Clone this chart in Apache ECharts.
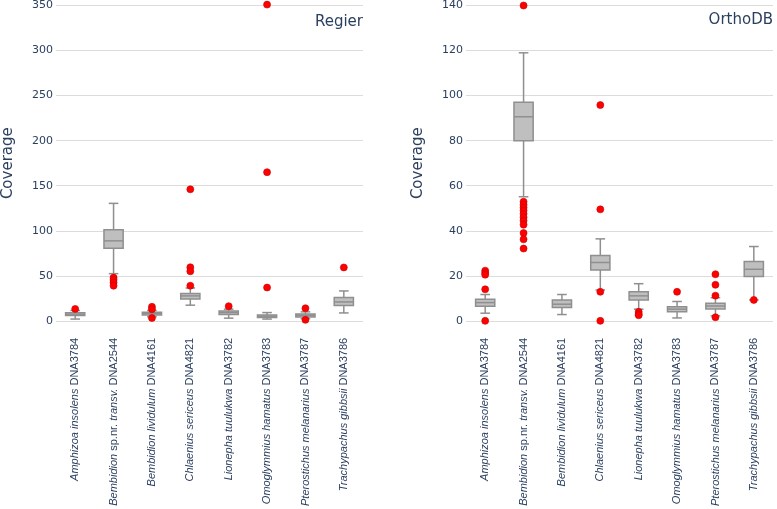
<!DOCTYPE html>
<html>
<head>
<meta charset="utf-8">
<script src="https://cdn.jsdelivr.net/npm/echarts@6/dist/echarts.min.js"></script>
<style>
  html, body { margin: 0; padding: 0; background: #fff; }
  #chart { width: 777px; height: 509px; }
</style>
</head>
<body>
<div id="chart"></div>
<script>
const categories = [
  'Amphizoa insolens DNA3784',
  'Bembidion sp.nr. transv. DNA2544',
  'Bembidion lividulum DNA4161',
  'Chlaenius sericeus DNA4821',
  'Lionepha tuulukwa DNA3782',
  'Omoglymmius hamatus DNA3783',
  'Pterostichus melanarius DNA3787',
  'Trachypachus gibbsii DNA3786'
];

// [min, q1, median, q3, max]
const regierBoxes = [
  [2, 6, 7.4, 9, 11.5],
  [52.4, 80.7, 88.8, 101, 130.4],
  [4.5, 6.5, 8, 9.5, 11.5],
  [17.4, 24.3, 27.7, 30.3, 36.5],
  [3, 7, 9.2, 11, 13],
  [2, 3.7, 5.2, 6.6, 9.2],
  [2.4, 4.4, 6, 7.7, 10],
  [8.8, 17, 21, 25.9, 33.2]
];
const regierOutliers = [
  [0, 13.3],
  [1, 48], [1, 45.5], [1, 42.5], [1, 39],
  [2, 15.6], [2, 12.9], [2, 3.2],
  [3, 146], [3, 59.5], [3, 55], [3, 39],
  [4, 16.3],
  [5, 351], [5, 165], [5, 37],
  [6, 14], [6, 1.1],
  [7, 59.3]
];

const orthoBoxes = [
  [3.4, 6.5, 8.1, 9.6, 11.7],
  [55.1, 80, 90.6, 97, 119],
  [2.8, 5.9, 7.4, 9.3, 11.7],
  [13.7, 22.6, 25.9, 29, 36.4],
  [5.2, 9.3, 11.1, 12.9, 16.5],
  [1.3, 4, 5.2, 6.3, 8.6],
  [2.2, 5.3, 6.6, 7.8, 10.3],
  [9.3, 19.7, 22.9, 26.4, 33]
];
const orthoOutliers = [
  [0, 22.3], [0, 21.3], [0, 20.5], [0, 14], [0, 0],
  [1, 140], [1, 52.9], [1, 51.6], [1, 50.3], [1, 49], [1, 47.5], [1, 46],
  [1, 44.5], [1, 42.7], [1, 39], [1, 36.2], [1, 32.1],
  [3, 95.8], [3, 49.5], [3, 12.9], [3, 0],
  [4, 4], [4, 3], [4, 2.5],
  [5, 12.9],
  [6, 20.7], [6, 16], [6, 11.2], [6, 1.6],
  [7, 9.3]
];

const textColor = '#2a3f5f';
const boxFill = '#bfbfbf';
const boxLine = '#8f8f8f';

function labelFormatter(value) {
  const idx = value.lastIndexOf(' DNA');
  const name = value.slice(0, idx);
  const code = value.slice(idx + 1);
  const parts = name.split(' ').map(w => (w === 'sp.nr.' ? '{n|' + w + ' }' : '{i|' + w + ' }'));
  return parts.join('') + '{n|' + code + '}';
}

function renderBox(params, api) {
  const x = api.value(0);
  const band = api.size([1, 0])[0];
  const bw = band * 0.5;
  const cw = band * 0.25;
  const pMin = api.coord([x, api.value(1)]);
  const pQ1 = api.coord([x, api.value(2)]);
  const pMed = api.coord([x, api.value(3)]);
  const pQ3 = api.coord([x, api.value(4)]);
  const pMax = api.coord([x, api.value(5)]);
  const cx = pMin[0];
  const ls = { stroke: boxLine, lineWidth: 1.5 };
  return {
    type: 'group',
    children: [
      { type: 'line', shape: { x1: cx, y1: pMax[1], x2: cx, y2: pQ3[1] }, style: ls },
      { type: 'line', shape: { x1: cx, y1: pQ1[1], x2: cx, y2: pMin[1] }, style: ls },
      { type: 'line', shape: { x1: cx - cw / 2, y1: pMax[1], x2: cx + cw / 2, y2: pMax[1] }, style: ls },
      { type: 'line', shape: { x1: cx - cw / 2, y1: pMin[1], x2: cx + cw / 2, y2: pMin[1] }, style: ls },
      { type: 'rect', shape: { x: cx - bw / 2, y: pQ3[1], width: bw, height: pQ1[1] - pQ3[1] },
        style: { fill: boxFill, stroke: boxLine, lineWidth: 1.5 } },
      { type: 'line', shape: { x1: cx - bw / 2, y1: pMed[1], x2: cx + bw / 2, y2: pMed[1] }, style: ls }
    ]
  };
}

function xAxisFor(gridIndex) {
  return {
    type: 'category',
    gridIndex: gridIndex,
    data: categories,
    axisLine: { show: false },
    axisTick: { show: false },
    splitLine: { show: false },
    axisLabel: {
      rotate: 90,
      margin: 17,
      interval: 0,
      formatter: labelFormatter,
      rich: {
        i: { fontStyle: 'italic', fontFamily: 'Liberation Sans', fontSize: 11, color: textColor },
        n: { fontFamily: 'Liberation Sans', fontSize: 11, color: textColor }
      }
    }
  };
}

function yAxisFor(gridIndex, max, interval) {
  return {
    type: 'value',
    gridIndex: gridIndex,
    min: 0,
    max: max,
    interval: interval,
    name: 'Coverage',
    nameLocation: 'middle',
    nameGap: 40,
    nameTextStyle: { fontFamily: 'DejaVu Sans', fontSize: 15, color: textColor },
    axisLine: { show: false },
    axisTick: { show: false },
    axisLabel: { margin: 3, fontFamily: 'DejaVu Sans', fontSize: 11, color: textColor },
    splitLine: { lineStyle: { color: '#dcdcdc', width: 1 } }
  };
}

function boxSeries(idx, boxes) {
  return {
    type: 'custom',
    xAxisIndex: idx,
    yAxisIndex: idx,
    renderItem: renderBox,
    encode: { x: 0, y: [1, 2, 3, 4, 5] },
    data: boxes.map((b, i) => [i].concat(b)),
    z: 2
  };
}

function outlierSeries(idx, pts) {
  return {
    type: 'scatter',
    xAxisIndex: idx,
    yAxisIndex: idx,
    data: pts,
    symbolSize: 7,
    clip: false,
    itemStyle: { color: '#ff0000', borderColor: '#c80000', borderWidth: 0.6, opacity: 1 },
    z: 3
  };
}

const chart = echarts.init(document.getElementById('chart'), null, { renderer: 'canvas' });

const option = {
  animation: false,
  backgroundColor: '#ffffff',
  title: [
    { text: 'Regier', right: 414, top: 15,
      textStyle: { fontFamily: 'DejaVu Sans', fontSize: 15, fontWeight: 'normal', color: textColor }, padding: 0 },
    { text: 'OrthoDB', right: 4, top: 13,
      textStyle: { fontFamily: 'DejaVu Sans', fontSize: 15, fontWeight: 'normal', color: textColor }, padding: 0 }
  ],
  grid: [
    { left: 56, width: 307, top: 5, height: 316 },
    { left: 466, width: 307, top: 5, height: 316 }
  ],
  xAxis: [xAxisFor(0), xAxisFor(1)],
  yAxis: [yAxisFor(0, 350, 50), yAxisFor(1, 140, 20)],
  series: [
    boxSeries(0, regierBoxes),
    outlierSeries(0, regierOutliers),
    boxSeries(1, orthoBoxes),
    outlierSeries(1, orthoOutliers)
  ]
};

chart.setOption(option);
</script>
</body>
</html>
